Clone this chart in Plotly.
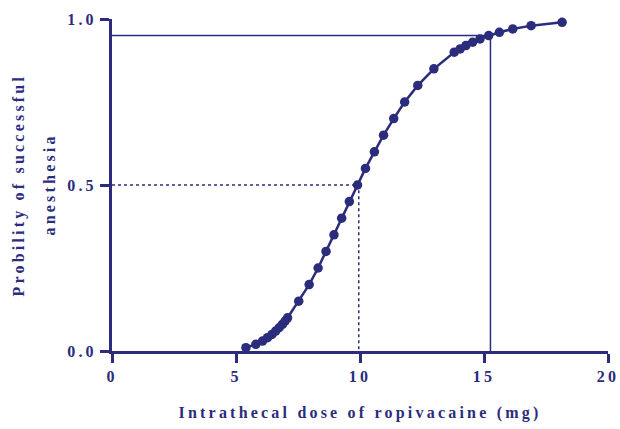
import plotly.graph_objects as go

# Probit-estimated doses (mg) and corresponding probabilities
dose = [5.40, 5.80, 6.07, 6.27, 6.45, 6.60, 6.74, 6.87, 6.98, 7.08,
        7.53, 7.95, 8.31, 8.63, 8.95, 9.26, 9.57, 9.90, 10.22, 10.58,
        10.95, 11.36, 11.80, 12.33, 12.98,
        13.80, 14.04, 14.27, 14.54, 14.84, 15.19, 15.62, 16.16, 16.90, 18.15]
prob = [0.01, 0.02, 0.03, 0.04, 0.05, 0.06, 0.07, 0.08, 0.09, 0.10,
        0.15, 0.20, 0.25, 0.30, 0.35, 0.40, 0.45, 0.50, 0.55, 0.60,
        0.65, 0.70, 0.75, 0.80, 0.85,
        0.90, 0.91, 0.92, 0.93, 0.94, 0.95, 0.96, 0.97, 0.98, 0.99]

ed50_dose, ed50_p = 9.95, 0.50
ed95_dose, ed95_p = 15.26, 0.95

x_ticks = [0, 5, 10, 15, 20]
y_ticks = [0.0, 0.5, 1.0]
y_tick_labels = ["0.0", "0.5", "1.0"]

NAVY = "#2b2c7c"
FONT = "Liberation Serif"

fig = go.Figure()

# ED50 dashed guide
fig.add_trace(go.Scatter(x=[0, ed50_dose, ed50_dose], y=[ed50_p, ed50_p, 0],
                         mode="lines", line=dict(color=NAVY, width=1.5, dash="3px,3px"),
                         hoverinfo="skip", showlegend=False))
# ED95 solid guide
fig.add_trace(go.Scatter(x=[0, ed95_dose, ed95_dose], y=[ed95_p, ed95_p, 0],
                         mode="lines", line=dict(color=NAVY, width=1.5),
                         hoverinfo="skip", showlegend=False))
# Curve
fig.add_trace(go.Scatter(x=dose, y=prob, mode="lines+markers",
                         line=dict(color=NAVY, width=2.5),
                         marker=dict(color=NAVY, size=9.5),
                         showlegend=False, cliponaxis=False))

tickfont = dict(family=FONT, size=16, color=NAVY, weight="bold")

fig.update_layout(
    width=620, height=429,
    margin=dict(l=112, r=12, t=19, b=78),
    paper_bgcolor="white", plot_bgcolor="white",
    xaxis=dict(range=[0, 20], tickvals=x_ticks, ticktext=[str(v) for v in x_ticks],
               showgrid=False, zeroline=False, showline=True, linecolor=NAVY, linewidth=3,
               ticks="outside", ticklen=9, tickwidth=3, tickcolor=NAVY,
               tickfont=tickfont, automargin=False,
               title=dict(text="Intrathecal dose of ropivacaine (mg)",
                          font=dict(family=FONT, size=16, color=NAVY, weight="bold"),
                          standoff=23)),
    yaxis=dict(range=[0, 1], tickvals=y_ticks, ticktext=y_tick_labels,
               showgrid=False, zeroline=False, showline=True, linecolor=NAVY, linewidth=3,
               ticks="outside", ticklen=9, tickwidth=3, tickcolor=NAVY,
               tickfont=tickfont, automargin=False),
    annotations=[
        dict(text="Probility of successful", xref="paper", yref="paper",
             x=-0.188, y=0.5, xanchor="center", yanchor="middle", textangle=-90,
             showarrow=False, font=dict(family=FONT, size=16, color=NAVY, weight="bold")),
        dict(text="anesthesia", xref="paper", yref="paper",
             x=-0.128, y=0.5, xanchor="center", yanchor="middle", textangle=-90,
             showarrow=False, font=dict(family=FONT, size=16, color=NAVY, weight="bold")),
    ],
)

post = """
var s = document.createElement('style');
s.innerHTML = 'html, body { margin: 0; padding: 0; overflow: hidden; } ' +
  '.xtitle, .annotation-text, .xtick text, .ytick text { letter-spacing: 3.2px; }';
document.head.appendChild(s);
"""

fig.write_html("out.html", post_script=post, config={"displayModeBar": False})
